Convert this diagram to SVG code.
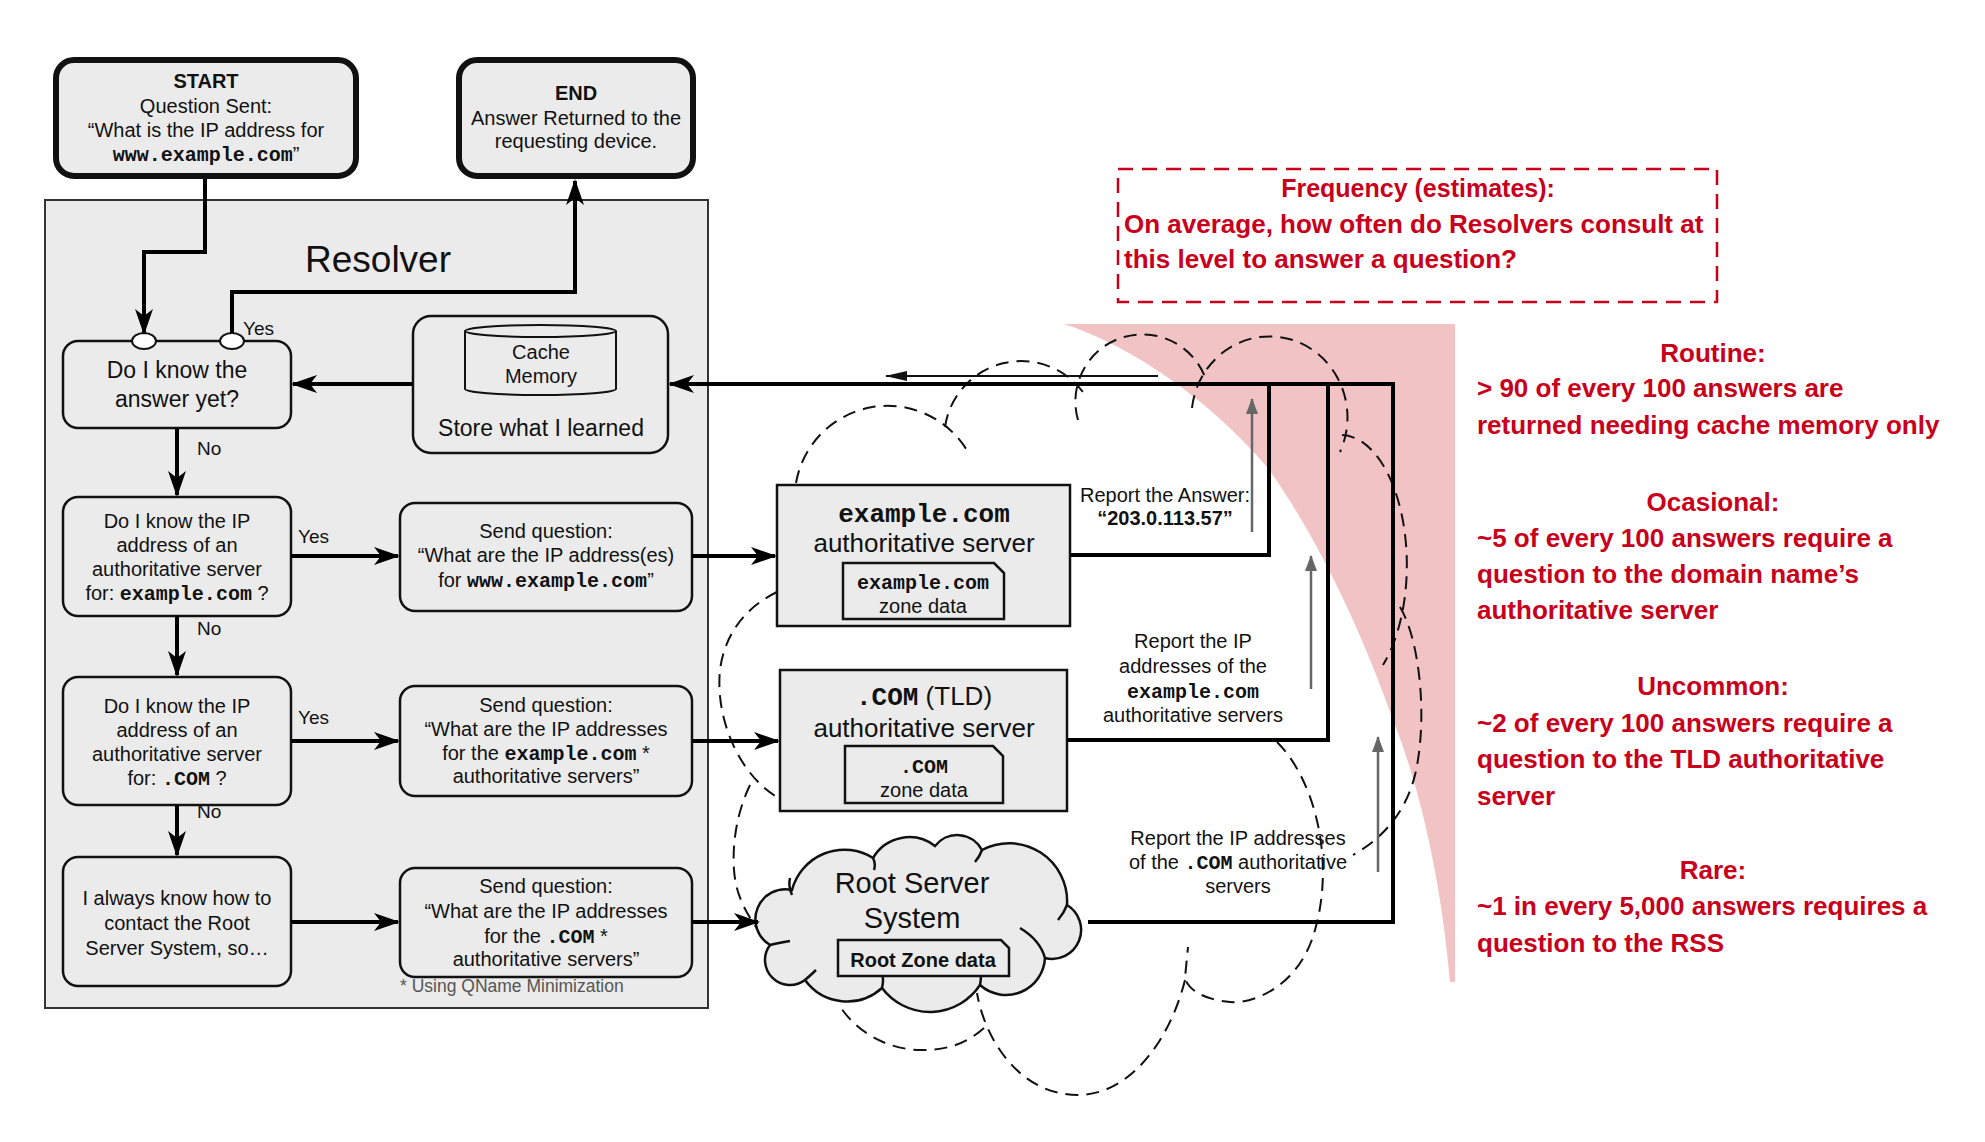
<svg xmlns="http://www.w3.org/2000/svg" width="1985" height="1142" viewBox="0 0 1985 1142">
<defs>
<style>
text{font-family:"Liberation Sans",Arial,sans-serif;fill:#111}
.c{text-anchor:middle}
.mono{font-family:"Liberation Mono","Courier New",monospace;font-weight:bold}
.box{fill:#ebebeb;stroke:#111;stroke-width:2.5}
.thick{fill:#ebebeb;stroke:#111;stroke-width:6}
.conn{fill:none;stroke:#000;stroke-width:4}
.gray{fill:none;stroke:#666;stroke-width:2.5}
.dash{fill:none;stroke:#111;stroke-width:2;stroke-dasharray:13 8}
.red{fill:#c8001c;font-weight:bold;font-size:26px}
.lbl{font-size:19px}
.t20{font-size:20px}
</style>
<marker id="arr" markerUnits="userSpaceOnUse" viewBox="0 0 26 18" refX="24" refY="9" markerWidth="26" markerHeight="18" orient="auto">
<path d="M0,0 L26,9 L0,18 L7,9 Z" fill="#000"/>
</marker>
<marker id="arrThin" markerUnits="userSpaceOnUse" viewBox="0 0 22 10" refX="21" refY="5" markerWidth="22" markerHeight="10" orient="auto">
<path d="M0,0 L22,5 L0,10 Z" fill="#111"/>
</marker>
<marker id="arrGray" markerUnits="userSpaceOnUse" viewBox="0 0 16 12" refX="15" refY="6" markerWidth="16" markerHeight="12" orient="auto">
<path d="M0,0 L16,6 L0,12 Z" fill="#666"/>
</marker>
</defs>
<rect width="1985" height="1142" fill="#fff"/>

<!-- pink frequency wedge -->
<path id="freq-wedge" d="M1064,324 H1455 V982 H1450 C1443,900 1425,800 1393,720 C1365,640 1320,540 1267,467 C1210,400 1130,345 1064,324 Z" fill="#f2c3c5"/>

<!-- Resolver container -->
<g id="resolver">
<rect x="45" y="200" width="663" height="808" fill="#ebebeb" stroke="#333" stroke-width="2"/>
<text x="378" y="272" class="c" font-size="37">Resolver</text>
</g>

<!-- dashed internet cloud -->
<g id="internet-cloud" class="dash">
<path d="M796,483 A93 93 0 0 1 968,452"/>
<path d="M945,427 A77 77 0 0 1 1085,395"/>
<path d="M1078,420 A67 67 0 0 1 1207,383"/>
<path d="M1192,408 A78 81 0 1 1 1340,452"/>
<path d="M1342,435 A66 130 0 0 1 1383,665"/>
<path d="M1400,607 C1420,640 1428,720 1415,775 C1405,815 1380,840 1353,855"/>
<path d="M1277,742 C1315,780 1335,860 1315,930 C1300,985 1255,1004 1230,1002 C1205,1000 1188,990 1185,978 L1188,947"/>
<path d="M1185,980 C1170,1040 1130,1095 1078,1095 C1020,1095 985,1040 977,993"/>
<path d="M984,1028 C965,1045 945,1050 922,1050 C885,1050 855,1030 839,1005"/>
<path d="M750,785 C738,810 732,840 734,870 C736,895 745,915 770,945"/>
<path d="M777,592 C750,605 725,630 720,670 C715,720 740,775 777,797"/>
</g>

<!-- START -->
<g id="start">
<rect x="56" y="60" width="300" height="116" rx="18" class="thick"/>
<text x="206" y="88" class="c t20" font-weight="bold">START</text>
<text x="206" y="113" class="c t20">Question Sent:</text>
<text x="206" y="137" class="c t20">“What is the IP address for</text>
<text x="206" y="161" class="c t20"><tspan class="mono">www.example.com</tspan>”</text>
</g>

<!-- END -->
<g id="end">
<rect x="459" y="60" width="234" height="116" rx="18" class="thick"/>
<text x="576" y="100" class="c t20" font-weight="bold">END</text>
<text x="576" y="125" class="c t20">Answer Returned to the</text>
<text x="576" y="148" class="c t20">requesting device.</text>
</g>

<!-- Do I know the answer yet? -->
<g id="q-answer">
<rect x="63" y="341" width="228" height="87" rx="15" class="box"/>
<text x="177" y="378" class="c" font-size="23">Do I know the</text>
<text x="177" y="407" class="c" font-size="23">answer yet?</text>
<ellipse cx="144" cy="341" rx="12" ry="8" fill="#fff" stroke="#111" stroke-width="2"/>
<ellipse cx="232" cy="341" rx="12" ry="8" fill="#fff" stroke="#111" stroke-width="2"/>
</g>

<!-- Cache -->
<g id="cache">
<rect x="413" y="316" width="255" height="137" rx="18" class="box"/>
<path d="M465,331 A75.5,6 0 0 1 616,331 V389 A75.5,6 0 0 1 465,389 Z" fill="#ebebeb" stroke="#111" stroke-width="2"/>
<path d="M465,331 A75.5,6 0 0 0 616,331" fill="none" stroke="#111" stroke-width="2"/>
<text x="541" y="359" class="c t20">Cache</text>
<text x="541" y="383" class="c t20">Memory</text>
<text x="541" y="436" class="c" font-size="23">Store what I learned</text>
</g>

<!-- Q2 -->
<g id="q-auth">
<rect x="63" y="497" width="228" height="119" rx="15" class="box"/>
<text x="177" y="528" class="c t20">Do I know the IP</text>
<text x="177" y="552" class="c t20">address of an</text>
<text x="177" y="576" class="c t20">authoritative server</text>
<text x="177" y="600" class="c t20">for: <tspan class="mono">example.com</tspan> ?</text>
</g>

<!-- Q3 -->
<g id="q-tld">
<rect x="63" y="677" width="228" height="128" rx="15" class="box"/>
<text x="177" y="713" class="c t20">Do I know the IP</text>
<text x="177" y="737" class="c t20">address of an</text>
<text x="177" y="761" class="c t20">authoritative server</text>
<text x="177" y="785" class="c t20">for: <tspan class="mono">.COM</tspan> ?</text>
</g>

<!-- Q4 -->
<g id="q-root">
<rect x="63" y="857" width="228" height="129" rx="15" class="box"/>
<text x="177" y="905" class="c t20">I always know how to</text>
<text x="177" y="930" class="c t20">contact the Root</text>
<text x="177" y="955" class="c t20">Server System, so…</text>
</g>

<!-- Send 1 -->
<g id="send-1">
<rect x="400" y="503" width="292" height="108" rx="15" class="box"/>
<text x="546" y="538" class="c t20">Send question:</text>
<text x="546" y="562" class="c t20">“What are the IP address(es)</text>
<text x="546" y="587" class="c t20">for <tspan class="mono">www.example.com</tspan>”</text>
</g>

<!-- Send 2 -->
<g id="send-2">
<rect x="400" y="686" width="292" height="110" rx="15" class="box"/>
<text x="546" y="712" class="c t20">Send question:</text>
<text x="546" y="736" class="c t20">“What are the IP addresses</text>
<text x="546" y="760" class="c t20">for the <tspan class="mono">example.com</tspan> *</text>
<text x="546" y="783" class="c t20">authoritative servers”</text>
</g>

<!-- Send 3 -->
<g id="send-3">
<rect x="400" y="868" width="292" height="109" rx="15" class="box"/>
<text x="546" y="893" class="c t20">Send question:</text>
<text x="546" y="918" class="c t20">“What are the IP addresses</text>
<text x="546" y="943" class="c t20">for the <tspan class="mono">.COM</tspan> *</text>
<text x="546" y="966" class="c t20">authoritative servers”</text>
<text x="400" y="992" font-size="17.5" fill="#555" style="fill:#555">* Using QName Minimization</text>
</g>

<!-- example.com server -->
<g id="server-example">
<rect x="777" y="485" width="293" height="141" class="box"/>
<text x="924" y="522" class="c mono" font-size="26">example.com</text>
<text x="924" y="552" class="c" font-size="26">authoritative server</text>
<path d="M843,563 H994 L1004,573 V619 H843 Z" class="box"/>
<text x="923" y="589" class="c mono t20">example.com</text>
<text x="923" y="613" class="c t20">zone data</text>
</g>

<!-- TLD server -->
<g id="server-tld">
<rect x="780" y="670" width="287" height="141" class="box"/>
<text x="924" y="705" class="c" font-size="26"><tspan class="mono">.COM</tspan> (TLD)</text>
<text x="924" y="737" class="c" font-size="26">authoritative server</text>
<path d="M845,746 H993 L1003,756 V803 H845 Z" class="box"/>
<text x="924" y="773" class="c mono t20">.COM</text>
<text x="924" y="797" class="c t20">zone data</text>
</g>

<!-- Root Server System -->
<g id="root-server-system">
<path d="M770,945 A30 30 0 0 1 792,890 A54 54 0 0 1 873,858 A42 42 0 0 1 935,846 A28 28 0 0 1 982,850 A58 58 0 0 1 1067,905 A29 29 0 0 1 1045,958 A39 39 0 0 1 980,985 A60 60 0 0 1 882,988 A52 52 0 0 1 805,980 A25 25 0 0 1 770,945 Z" fill="#ebebeb" stroke="#111" stroke-width="2.5"/>
<g fill="none" stroke="#111" stroke-width="2.5">
<path d="M790,941 Q778,943 770,945"/>
<path d="M790,878 Q788,886 792,895"/>
<path d="M873,858 Q876,864 874,870"/>
<path d="M982,850 Q980,856 975,862"/>
<path d="M1067,905 Q1064,913 1058,920"/>
<path d="M1020,928 Q1040,940 1045,958"/>
<path d="M980,985 Q982,975 980,965"/>
<path d="M882,988 Q884,980 882,972"/>
<path d="M805,980 Q812,974 816,970"/>
</g>
<text x="912" y="893" class="c" font-size="29">Root Server</text>
<text x="912" y="928" class="c" font-size="29">System</text>
<path d="M838,940 H1001 L1009,948 V976 H838 Z" fill="#ebebeb" stroke="#111" stroke-width="2.5"/>
<text x="923" y="967" class="c t20" font-weight="bold">Root Zone data</text>
</g>

<!-- connectors -->
<g id="connectors">
<path class="conn" d="M205,179 V252 H144 V333" marker-end="url(#arr)"/>
<path class="conn" d="M232,333 V292 H575 V181" marker-end="url(#arr)"/>
<path class="conn" d="M413,384 H293" marker-end="url(#arr)"/>
<path class="conn" d="M1088,922 H1393 V384 H670" marker-end="url(#arr)"/>
<path class="conn" d="M1067,740 H1328 V384"/>
<path class="conn" d="M1070,555 H1269 V384"/>
<path class="conn" d="M177,428 V495" marker-end="url(#arr)"/>
<path class="conn" d="M291,556 H398" marker-end="url(#arr)"/>
<path class="conn" d="M177,616 V675" marker-end="url(#arr)"/>
<path class="conn" d="M291,741 H398" marker-end="url(#arr)"/>
<path class="conn" d="M177,805 V855" marker-end="url(#arr)"/>
<path class="conn" d="M291,922 H398" marker-end="url(#arr)"/>
<path class="conn" d="M692,556 H775" marker-end="url(#arr)"/>
<path class="conn" d="M692,741 H778" marker-end="url(#arr)"/>
<path class="conn" d="M692,922 H758" marker-end="url(#arr)"/>
<path d="M1158,376 H886" fill="none" stroke="#111" stroke-width="2" marker-end="url(#arrThin)"/>
<path class="gray" d="M1252,532 V399" marker-end="url(#arrGray)"/>
<path class="gray" d="M1311,689 V556" marker-end="url(#arrGray)"/>
<path class="gray" d="M1378,872 V737" marker-end="url(#arrGray)"/>
<text x="243" y="335" class="lbl">Yes</text>
<text x="197" y="455" class="lbl">No</text>
<text x="298" y="543" class="lbl">Yes</text>
<text x="197" y="635" class="lbl">No</text>
<text x="298" y="724" class="lbl">Yes</text>
<text x="197" y="818" class="lbl">No</text>
<text x="1165" y="502" class="c t20">Report the Answer:</text>
<text x="1165" y="525" class="c t20" font-weight="bold">“203.0.113.57”</text>
<text x="1193" y="648" class="c t20">Report the IP</text>
<text x="1193" y="673" class="c t20">addresses of the</text>
<text x="1193" y="698" class="c mono t20">example.com</text>
<text x="1193" y="722" class="c t20">authoritative servers</text>
<text x="1238" y="845" class="c t20">Report the IP addresses</text>
<text x="1238" y="869" class="c t20">of the <tspan class="mono">.COM</tspan> authoritative</text>
<text x="1238" y="893" class="c t20">servers</text>
</g>

<!-- Frequency legend -->
<g id="frequency-box">
<rect x="1118" y="169" width="599" height="133" fill="none" stroke="#c8001c" stroke-width="2.5" stroke-dasharray="15 9"/>
<text x="1418" y="197" class="c red" style="font-size:25px">Frequency (estimates):</text>
<text x="1124" y="233" class="red">On average, how often do Resolvers consult at</text>
<text x="1124" y="268" class="red">this level to answer a question?</text>
</g>

<g id="freq-routine">
<text x="1713" y="362" class="c red">Routine:</text>
<text x="1477" y="397" class="red">&gt; 90 of every 100 answers are</text>
<text x="1477" y="434" class="red">returned needing cache memory only</text>
</g>
<g id="freq-occasional">
<text x="1713" y="511" class="c red">Ocasional:</text>
<text x="1477" y="547" class="red">~5 of every 100 answers require a</text>
<text x="1477" y="583" class="red">question to the domain name’s</text>
<text x="1477" y="619" class="red">authoritative server</text>
</g>
<g id="freq-uncommon">
<text x="1713" y="695" class="c red">Uncommon:</text>
<text x="1477" y="732" class="red">~2 of every 100 answers require a</text>
<text x="1477" y="768" class="red">question to the TLD authoritative</text>
<text x="1477" y="805" class="red">server</text>
</g>
<g id="freq-rare">
<text x="1713" y="879" class="c red">Rare:</text>
<text x="1477" y="915" class="red">~1 in every 5,000 answers requires a</text>
<text x="1477" y="952" class="red">question to the RSS</text>
</g>
</svg>
